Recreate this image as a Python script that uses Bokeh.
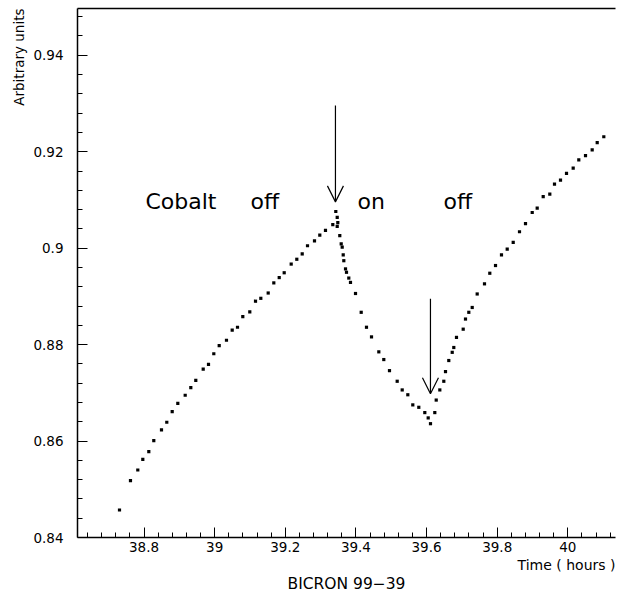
import numpy as np
from bokeh.plotting import figure
from bokeh.models import Range1d, FixedTicker, LinearAxis, Label, Arrow, OpenHead, Title
from bokeh.embed import file_html
from bokeh.resources import INLINE

# ---- data (time in hours, signal in arbitrary units) ----
off1_time = [38.7306, 38.7617, 38.7824, 38.7966, 38.8136, 38.8277, 38.8495, 38.8645, 38.8798, 38.8957,
             38.9166, 38.9325, 38.9466, 38.9676, 38.9826, 38.9976, 39.0129, 39.0335, 39.0497, 39.0647,
             39.0797, 39.0995, 39.1157, 39.1307, 39.1516, 39.1675, 39.1828, 39.1969, 39.2167, 39.2326,
             39.2479, 39.2629, 39.2827, 39.2977, 39.3138, 39.3345, 39.3430]
off1_signal = [0.8457, 0.8518, 0.8540, 0.8562, 0.8578, 0.8601, 0.8623, 0.8639, 0.8661, 0.8678,
               0.8695, 0.8711, 0.8726, 0.8749, 0.8759, 0.8781, 0.8798, 0.8809, 0.8830, 0.8836,
               0.8858, 0.8868, 0.8890, 0.8896, 0.8907, 0.8928, 0.8939, 0.8949, 0.8967, 0.8977,
               0.8988, 0.9005, 0.9015, 0.9027, 0.9037, 0.9049, 0.9076]

on_time = [39.3470, 39.3487, 39.3470, 39.3543, 39.3583, 39.3611, 39.3640, 39.3657, 39.3705, 39.3733,
           39.3798, 39.3846, 39.3988, 39.4149, 39.4299, 39.4441, 39.4648, 39.4789, 39.4950, 39.5168,
           39.5310, 39.5469, 39.5610, 39.5780, 39.5950, 39.6046, 39.6111]
on_signal = [0.9064, 0.9053, 0.9045, 0.9026, 0.9009, 0.9002, 0.8986, 0.8974, 0.8957, 0.8950,
             0.8938, 0.8929, 0.8906, 0.8867, 0.8836, 0.8816, 0.8785, 0.8769, 0.8746, 0.8724,
             0.8706, 0.8696, 0.8675, 0.8670, 0.8659, 0.8648, 0.8636]

off2_time = [39.6233, 39.6273, 39.6375, 39.6488, 39.6536, 39.6629, 39.6726, 39.6771, 39.6847, 39.7037,
             39.7102, 39.7196, 39.7292, 39.7433, 39.7640, 39.7790, 39.7952, 39.8121, 39.8283, 39.8453,
             39.8631, 39.8801, 39.8991, 39.9132, 39.9302, 39.9489, 39.9622, 39.9792, 39.9962, 40.0151,
             40.0310, 40.0500, 40.0689, 40.0831, 40.1018]
off2_signal = [0.8659, 0.8685, 0.8706, 0.8724, 0.8744, 0.8767, 0.8784, 0.8794, 0.8815, 0.8832,
               0.8853, 0.8867, 0.8877, 0.8905, 0.8926, 0.8948, 0.8964, 0.8986, 0.8998, 0.9012,
               0.9034, 0.9051, 0.9074, 0.9083, 0.9107, 0.9112, 0.9133, 0.9141, 0.9155, 0.9166,
               0.9183, 0.9192, 0.9204, 0.9219, 0.9231]

x_ticks = [38.8, 39.0, 39.2, 39.4, 39.6, 39.8, 40.0]
x_tick_labels = ["38.8", "39", "39.2", "39.4", "39.6", "39.8", "40"]
y_ticks = [0.84, 0.86, 0.88, 0.90, 0.92, 0.94]
y_tick_labels = ["0.84", "0.86", "0.88", "0.9", "0.92", "0.94"]

# annotation texts (text, time, level)
notes = [("Cobalt", 38.8042, 0.9096), ("off", 39.1015, 0.9096),
         ("on", 39.4045, 0.9096), ("off", 39.648, 0.9096)]
# source switching arrows (time, from level, to level)
switch_arrows = [(39.342, 0.9296, 0.9096), (39.611, 0.8895, 0.8698)]

FONT = "DejaVu Sans"

p = figure(width=617, height=595, output_backend="svg", toolbar_location=None,
           x_range=Range1d(38.6117, 40.1349), y_range=Range1d(0.84, 0.9497),
           min_border_left=77, min_border_right=2, min_border_top=8, min_border_bottom=58)
p.background_fill_color = "white"
p.border_fill_color = "white"
p.outline_line_color = None
p.xgrid.visible = False
p.ygrid.visible = False

x_minor = [float(v) for v in np.round(np.arange(38.64, 40.121, 0.04), 3)]
y_minor = [float(v) for v in np.round(np.arange(0.844, 0.9491, 0.004), 4)]

xa = p.xaxis[0]
xa.ticker = FixedTicker(ticks=x_ticks, minor_ticks=x_minor)
xa.major_label_overrides = dict(zip(x_ticks, x_tick_labels))
ya = p.yaxis[0]
ya.ticker = FixedTicker(ticks=y_ticks, minor_ticks=y_minor)
ya.major_label_overrides = dict(zip(y_ticks, y_tick_labels))

for ax in (xa, ya):
    ax.major_tick_in = 10
    ax.major_tick_out = 0
    ax.minor_tick_in = 5
    ax.minor_tick_out = 0
    ax.axis_line_color = "black"
    ax.axis_line_width = 1.5
    ax.major_tick_line_color = "black"
    ax.minor_tick_line_color = "black"
    ax.major_label_text_font = FONT
    ax.major_label_text_font_size = "13.5px"
    ax.major_label_text_color = "black"

xa.major_label_standoff = 4
ya.major_label_standoff = 14

top_axis = LinearAxis(ticker=FixedTicker(ticks=[]), major_label_text_font_size="0px",
                      major_tick_in=0, major_tick_out=0, minor_tick_in=0, minor_tick_out=0,
                      major_label_standoff=0, axis_line_width=1.5, axis_line_color="black")
p.add_layout(top_axis, "above")

p.add_layout(Title(text="Time ( hours )", align="right", standoff=0,
                   text_font=FONT, text_font_size="14px", text_font_style="normal",
                   text_color="black"), "below")
p.add_layout(Title(text="BICRON 99\u221239", align="center", standoff=0,
                   text_font=FONT, text_font_size="15.5px", text_font_style="normal",
                   text_color="black"), "below")
p.add_layout(Title(text="Arbitrary units", align="right", standoff=7,
                   text_font=FONT, text_font_size="13.5px", text_font_style="normal",
                   text_color="black"), "left")

for t, v in ((off1_time, off1_signal), (on_time, on_signal), (off2_time, off2_signal)):
    p.scatter(t, v, marker="square", size=3.2, fill_color="black", line_color=None)

for txt, tx, ty in notes:
    p.add_layout(Label(x=tx, y=ty, text=txt, text_font=FONT, text_font_size="22px",
                       text_color="black", text_align="left", text_baseline="alphabetic"))

for tx, y0, y1 in switch_arrows:
    p.add_layout(Arrow(end=OpenHead(size=16, line_width=1.2, line_color="black"),
                       x_start=tx, y_start=y0, x_end=tx, y_end=y1,
                       line_width=1.2, line_color="black"))

open("out.html", "w").write(file_html(p, INLINE))
